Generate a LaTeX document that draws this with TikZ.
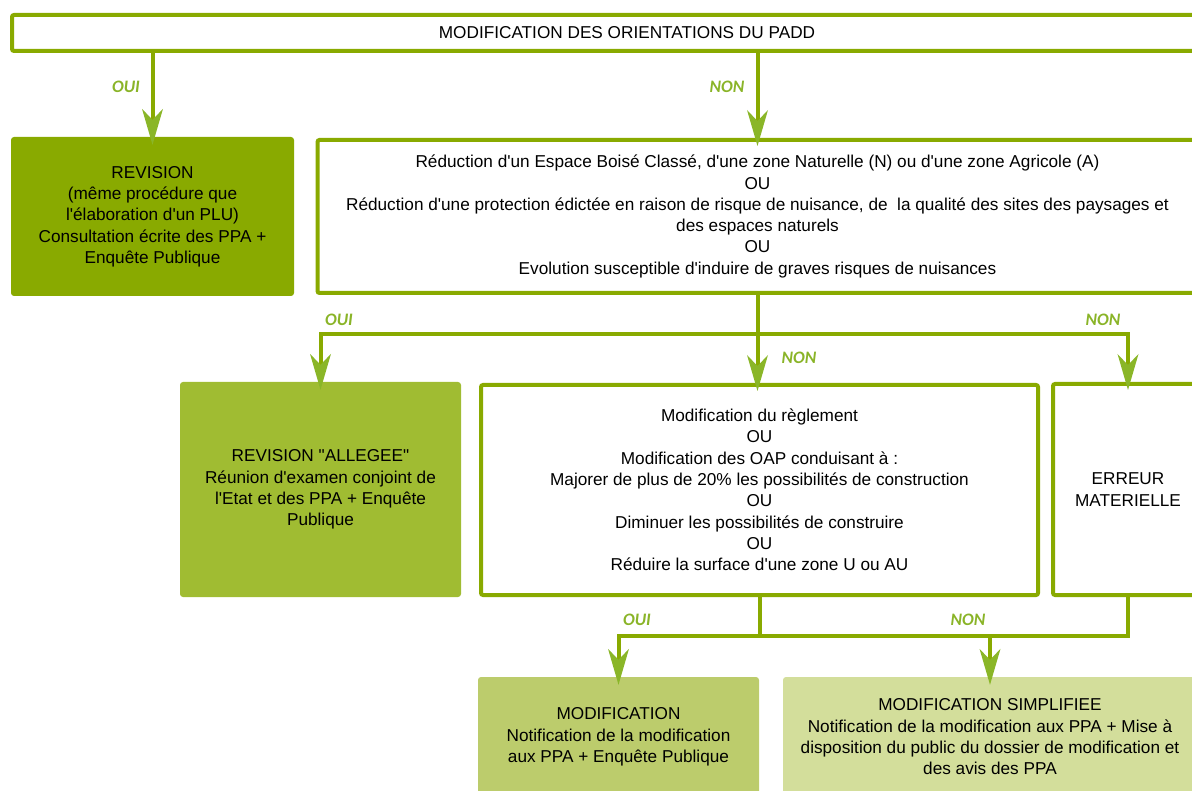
\documentclass[tikz,border=0pt]{standalone}
\usepackage{fontspec}
\setmainfont{Liberation Sans}[Ligatures=TeXOff]
\newfontfamily\labfont{Carlito}
\usetikzlibrary{arrows.meta}

\definecolor{lineGreen}{RGB}{137,170,0}
\definecolor{tipGreen}{RGB}{138,182,40}
\definecolor{labGreen}{RGB}{138,180,40}
\definecolor{revFill}{RGB}{137,170,0}
\definecolor{allegFill}{RGB}{160,188,50}
\definecolor{modFill}{RGB}{188,204,108}
\definecolor{simpFill}{RGB}{211,222,155}

\begin{document}
\begin{tikzpicture}[
  x=1pt, y=-1pt,
  every node/.style={font=\fontsize{17.2}{21.3}\selectfont, align=center, inner sep=2pt},
  frame/.style={rectangle, draw=lineGreen, line width=4pt, fill=white, rounded corners=2pt},
  fillbox/.style={rectangle, rounded corners=3pt},
  conn/.style={draw=lineGreen, line width=4pt},
  arr/.style={conn, shorten >=-8pt,
              -{Stealth[length=36pt, width=21pt, inset=11pt, line width=0pt, color=tipGreen]}},
  lab/.style={font=\labfont\bfseries\itshape\fontsize{17.5}{20}\selectfont, text=labGreen, inner sep=0pt}
]

% Page frame: the boxes on the right run past the edge and are cut.
\clip (0,0) rectangle (1192,791);

% Question on the PADD and the first split.
\node[frame, minimum width=1230pt, minimum height=36pt] (top) at (627,33)
  {MODIFICATION DES ORIENTATIONS DU PADD};
\node[fillbox, fill=revFill, minimum width=283pt, minimum height=159pt] (rev) at (152.5,216.5)
  {REVISION\\(même procédure que\\l'élaboration d'un PLU)\\Consultation écrite des PPA +\\Enquête Publique};
\node[frame, minimum width=880pt, minimum height=153pt] (mid1) at (757.5,216.5)
  {Réduction d'un Espace Boisé Classé, d'une zone Naturelle (N) ou d'une zone Agricole (A)\\OU\\
   Réduction d'une protection édictée en raison de risque de nuisance, de \ la qualité des sites des paysages et\\
   des espaces naturels\\OU\\Evolution susceptible d'induire de graves risques de nuisances};

% Second row.
\node[fillbox, fill=allegFill, minimum width=281pt, minimum height=215pt] (alleg) at (320.5,489.5)
  {REVISION "ALLEGEE"\\Réunion d'examen conjoint de\\l'Etat et des PPA + Enquête\\Publique};
\node[frame, minimum width=557pt, minimum height=210pt] (mid2) at (759.5,490)
  {Modification du règlement\\OU\\Modification des OAP conduisant à :\\
   Majorer de plus de 20\% les possibilités de construction\\OU\\
   Diminuer les possibilités de construire\\OU\\Réduire la surface d'une zone U ou AU};
\node[frame, minimum width=150pt, minimum height=211pt] (err) at (1128,489.5)
  {ERREUR\\MATERIELLE};

% Outcomes.
\node[fillbox, fill=modFill, minimum width=281pt, minimum height=120pt] (modif) at (618.5,737)
  {MODIFICATION\\Notification de la modification\\aux PPA + Enquête Publique};
\node[fillbox, fill=simpFill, minimum width=414pt, minimum height=120pt] (simp) at (990,737)
  {MODIFICATION SIMPLIFIEE\\Notification de la modification aux PPA + Mise à\\
   disposition du public du dossier de modification et\\des avis des PPA};

% Junction points of the branching lines.
\coordinate (split1) at (mid1.south |- 0,334);
\coordinate (split2) at (mid2.south |- 0,636);

\draw[arr] (top.south -| rev.north) -- (rev.north);
\draw[arr] (top.south -| mid1.north) -- (mid1.north);

\draw[conn] (mid1.south) -- (split1);
\draw[arr] (split1) -| (alleg.north);
\draw[arr] (split1) -- (split1 |- mid2.north);
\draw[arr] (split1) -| (err.north);

\draw[conn] (mid2.south) -- (split2);
\draw[conn] (err.south) |- (split2);
\draw[arr] (split2) -| (modif.north);
\draw[arr] (split2) -| (simp.north);

% Yes / no labels.
\node[lab] (oui1) at (126,87) {OUI};
\node[lab] (non1) at (727,87) {NON};
\node[lab] (oui2) at (339,320) {OUI};
\node[lab] (non2) at (799,358) {NON};
\node[lab] (non3) at (1103,320) {NON};
\node[lab] (oui3) at (637,620) {OUI};
\node[lab] (non4) at (968,620) {NON};

\end{tikzpicture}
\end{document}
